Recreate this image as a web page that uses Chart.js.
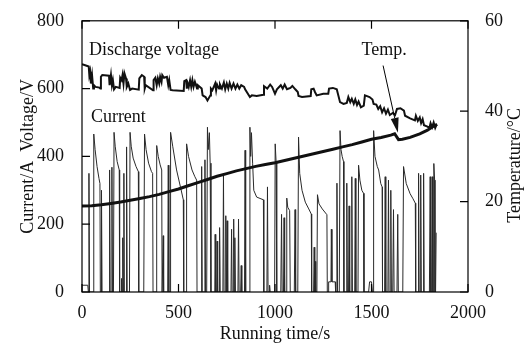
<!DOCTYPE html>
<html>
<head>
<meta charset="utf-8">
<script src="https://cdn.jsdelivr.net/npm/chart.js@4.4.0/dist/chart.umd.min.js"></script>
<style>
  html, body { margin: 0; padding: 0; background: #fff; }
  canvas { display: block; }
</style>
</head>
<body>
<canvas id="chart" width="531" height="349"></canvas>
<script>
// running time (s) and current (A)
const currentTime = [0,30,33,36,39,58,61,68,78,88,93,95,99,101,104,140,143,146,152,155,158,163,166,172,182,193,195,203,205,208,211,214,217,219,228,231,234,246,249,255,265,280,292,294,320,324,332,345,360,366,368,384,387,395,405,413,415,419,421,423,444,447,450,456,459,470,490,510,525,527,540,542,552,570,585,594,596,617,620,623,634,637,640,646,650,654,660,664,668,688,690,693,698,700,703,710,713,716,730,733,736,742,745,748,752,755,772,775,778,783,786,789,792,795,808,811,814,822,825,828,842,845,848,866,870,874,878,884,890,905,940,942,958,961,964,970,972,975,998,1001,1006,1009,1030,1034,1037,1044,1047,1050,1058,1061,1066,1076,1079,1100,1104,1107,1118,1122,1128,1140,1157,1175,1188,1190,1200,1203,1206,1208,1211,1217,1220,1228,1245,1269,1271,1276,1278,1290,1292,1295,1312,1314,1318,1321,1324,1333,1337,1342,1348,1355,1357,1368,1372,1375,1381,1384,1387,1395,1398,1401,1413,1416,1419,1430,1433,1440,1450,1459,1461,1485,1490,1500,1505,1508,1511,1518,1530,1537,1548,1555,1557,1568,1571,1574,1585,1588,1591,1597,1600,1603,1610,1614,1617,1632,1636,1639,1662,1666,1680,1700,1715,1727,1729,1741,1744,1747,1752,1755,1758,1767,1770,1773,1800,1804,1807,1812,1815,1818,1820,1823,1827,1829,1832,1835,1837];
const currentAmp  = [20,20,0,350,0,0,466,420,370,335,320,0,0,300,0,0,360,0,0,368,0,0,471,430,385,360,0,0,40,0,160,0,350,0,0,428,0,0,471,430,395,370,355,0,0,466,420,380,355,350,0,0,432,400,375,360,0,0,166,0,0,374,0,0,471,430,360,310,272,0,0,437,400,360,340,330,0,0,370,0,0,390,0,0,486,420,470,380,0,0,170,0,0,150,0,0,190,0,0,350,0,0,225,0,210,0,0,185,0,0,215,0,160,0,0,215,0,0,78,0,0,418,0,0,486,400,470,380,300,280,272,0,0,310,0,0,20,0,0,437,380,0,0,229,0,0,219,0,0,277,250,240,0,0,243,0,0,457,350,300,265,245,230,0,0,132,0,90,0,0,287,260,245,228,0,0,30,30,185,30,30,0,0,321,0,0,476,420,400,385,0,0,321,0,0,254,0,0,340,0,0,335,0,0,374,330,300,291,0,0,30,30,0,0,476,400,370,360,320,310,0,0,340,0,0,330,0,0,300,0,0,243,0,0,229,0,0,370,320,290,275,262,0,0,350,0,0,345,0,0,350,0,0,340,0,0,340,0,0,379,330,0,0,175,175];

// running time (s) and discharge voltage (V)
const voltageTime = [0,20,35,38,42,46,52,58,62,70,90,95,98,105,140,143,150,155,160,166,175,195,198,205,210,215,220,228,232,240,249,260,294,297,310,322,325,330,368,371,380,387,393,400,405,412,416,425,440,447,452,459,470,527,530,540,543,548,553,560,566,572,578,585,596,600,620,625,640,650,665,668,675,690,695,700,710,715,725,735,742,750,758,765,775,785,795,805,815,825,840,845,870,880,905,940,943,960,975,985,1000,1010,1030,1040,1050,1062,1080,1090,1105,1118,1122,1140,1185,1188,1200,1207,1216,1250,1276,1280,1300,1320,1337,1355,1372,1380,1390,1398,1408,1416,1425,1433,1445,1460,1466,1490,1505,1511,1525,1535,1545,1555,1565,1575,1585,1595,1610,1622,1632,1650,1668,1674,1700,1725,1730,1740,1750,1757,1765,1772,1790,1800,1806,1814,1822,1830,1837];
const voltageVolt = [672,668,665,640,650,615,640,600,610,605,603,600,635,640,638,610,640,610,625,598,605,602,632,625,640,615,645,630,605,615,596,600,597,630,640,635,600,610,595,625,632,610,630,615,635,620,640,632,635,610,625,596,595,593,622,625,600,615,605,625,605,625,605,620,600,610,600,580,575,565,580,600,595,615,595,612,600,612,600,618,598,615,600,617,600,615,600,612,600,610,605,598,575,580,578,582,607,600,612,605,585,598,610,600,612,598,602,608,598,590,578,575,578,598,600,590,580,585,585,600,602,598,560,555,558,575,560,570,555,568,552,562,545,550,580,575,568,555,553,540,548,530,542,526,538,522,528,522,540,542,535,520,512,506,520,505,515,498,510,492,488,484,498,486,500,484,494];

// running time (s) and temperature (°C)
const tempTime = [0,50,100,150,200,250,300,350,400,450,500,550,600,650,700,750,800,850,900,950,1000,1050,1100,1150,1200,1250,1300,1350,1400,1450,1500,1550,1600,1620,1640,1660,1700,1750,1790,1815,1840];
const tempDeg  = [19.0,19.1,19.3,19.6,19.9,20.3,20.7,21.1,21.6,22.2,22.8,23.5,24.2,24.9,25.6,26.2,26.8,27.3,27.8,28.2,28.6,29.1,29.6,30.1,30.6,31.1,31.6,32.1,32.6,33.2,33.8,34.2,34.7,35.0,33.7,33.8,34.2,35.0,35.8,36.5,37.1];

const xTicks = [0, 500, 1000, 1500, 2000];
const leftTicks = [0, 200, 400, 600, 800];
const rightTicks = [0, 20, 40, 60];

const serif = '"Liberation Serif", "Times New Roman", serif';
const pts = (xs, ys) => xs.map((t, i) => ({ x: t, y: ys[i] }));

// text labels placed in data units (x in s, y in left-axis units)
const notes = [
  { text: 'Discharge voltage', x: 36, y: 713 },
  { text: 'Current', x: 46, y: 515 },
  { text: 'Temp.', x: 1565, y: 712, center: true }
];
const arrow = { from: { x: 1560, y: 668 }, to: { x: 1637, y: 470 } };

const frame = {
  id: 'frame',
  afterDatasetsDraw(chart) {
    const { ctx, chartArea: a, scales: { x, y, y1 } } = chart;
    ctx.save();
    ctx.strokeStyle = '#000';
    ctx.lineWidth = 1.2;
    ctx.strokeRect(a.left, a.top, a.right - a.left, a.bottom - a.top);
    ctx.beginPath();
    x.ticks.forEach(t => {
      const p = x.getPixelForValue(t.value);
      ctx.moveTo(p, a.bottom); ctx.lineTo(p, a.bottom - 8);
      ctx.moveTo(p, a.top); ctx.lineTo(p, a.top + 8);
    });
    y.ticks.forEach(t => {
      const p = y.getPixelForValue(t.value);
      ctx.moveTo(a.left, p); ctx.lineTo(a.left + 8, p);
    });
    y1.ticks.forEach(t => {
      const p = y1.getPixelForValue(t.value);
      ctx.moveTo(a.right, p); ctx.lineTo(a.right - 8, p);
    });
    ctx.stroke();

    ctx.fillStyle = '#111';
    ctx.font = '18px ' + serif;
    ctx.textBaseline = 'middle';
    notes.forEach(n => {
      ctx.textAlign = n.center ? 'center' : 'left';
      ctx.fillText(n.text, x.getPixelForValue(n.x), y.getPixelForValue(n.y));
    });

    // arrow to the temperature curve
    const x0 = x.getPixelForValue(arrow.from.x), y0 = y.getPixelForValue(arrow.from.y);
    const x1 = x.getPixelForValue(arrow.to.x), y1p = y.getPixelForValue(arrow.to.y);
    const ang = Math.atan2(y1p - y0, x1 - x0);
    const hl = 15, hw = 4;
    ctx.lineWidth = 1;
    ctx.beginPath();
    ctx.moveTo(x0, y0);
    ctx.lineTo(x1 - hl * Math.cos(ang), y1p - hl * Math.sin(ang));
    ctx.stroke();
    ctx.beginPath();
    ctx.moveTo(x1, y1p);
    ctx.lineTo(x1 - hl * Math.cos(ang) + hw * Math.sin(ang), y1p - hl * Math.sin(ang) - hw * Math.cos(ang));
    ctx.lineTo(x1 - hl * Math.cos(ang) - hw * Math.sin(ang), y1p - hl * Math.sin(ang) + hw * Math.cos(ang));
    ctx.closePath();
    ctx.fill();

    // right axis title, reading bottom to top
    ctx.save();
    ctx.translate(515, (a.top + a.bottom) / 2 + 9);
    ctx.rotate(-Math.PI / 2);
    ctx.textAlign = 'center';
    ctx.fillText('Temperature/°C', 0, 0);
    ctx.restore();
    ctx.restore();
  }
};

new Chart(document.getElementById('chart'), {
  type: 'line',
  data: {
    datasets: [
      { label: 'Temp.', data: pts(tempTime, tempDeg), yAxisID: 'y1',
        borderColor: '#111', borderWidth: 3 },
      { label: 'Discharge voltage', data: pts(voltageTime, voltageVolt), yAxisID: 'y',
        borderColor: '#111', borderWidth: 2 },
      { label: 'Current', data: pts(currentTime, currentAmp), yAxisID: 'y',
        borderColor: '#2a2a2a', borderWidth: 1 }
    ]
  },
  options: {
    responsive: false,
    animation: false,
    layout: { padding: { top: 17, left: 0, right: 0, bottom: 0 } },
    elements: { point: { radius: 0 }, line: { tension: 0 } },
    plugins: { legend: { display: false }, tooltip: { enabled: false } },
    scales: {
      x: {
        type: 'linear', min: 0, max: 2000,
        afterBuildTicks: s => { s.ticks = xTicks.map(v => ({ value: v })); },
        afterFit: s => { s.height = 57; },
        grid: { display: false }, border: { display: false },
        ticks: { color: '#111', padding: 2, maxRotation: 0, callback: v => String(v),
                 font: { family: serif, size: 18 } },
        title: { display: true, text: 'Running time/s', color: '#111',
                 padding: { top: 0, bottom: 4 }, font: { family: serif, size: 18 } }
      },
      y: {
        position: 'left', min: 0, max: 800,
        afterBuildTicks: s => { s.ticks = leftTicks.map(v => ({ value: v })); },
        afterFit: s => { s.width = 82; },
        grid: { display: false }, border: { display: false },
        ticks: { color: '#111', padding: 10, font: { family: serif, size: 18 } },
        title: { display: true, text: 'Current/A  Voltage/V', color: '#111',
                 padding: { top: 17, bottom: 0 }, font: { family: serif, size: 18 } }
      },
      y1: {
        position: 'right', min: 0, max: 60,
        afterBuildTicks: s => { s.ticks = rightTicks.map(v => ({ value: v })); },
        afterFit: s => { s.width = 63; },
        grid: { display: false }, border: { display: false },
        ticks: { color: '#111', padding: 9, font: { family: serif, size: 18 } }
      }
    }
  },
  plugins: [frame]
});
</script>
</body>
</html>
